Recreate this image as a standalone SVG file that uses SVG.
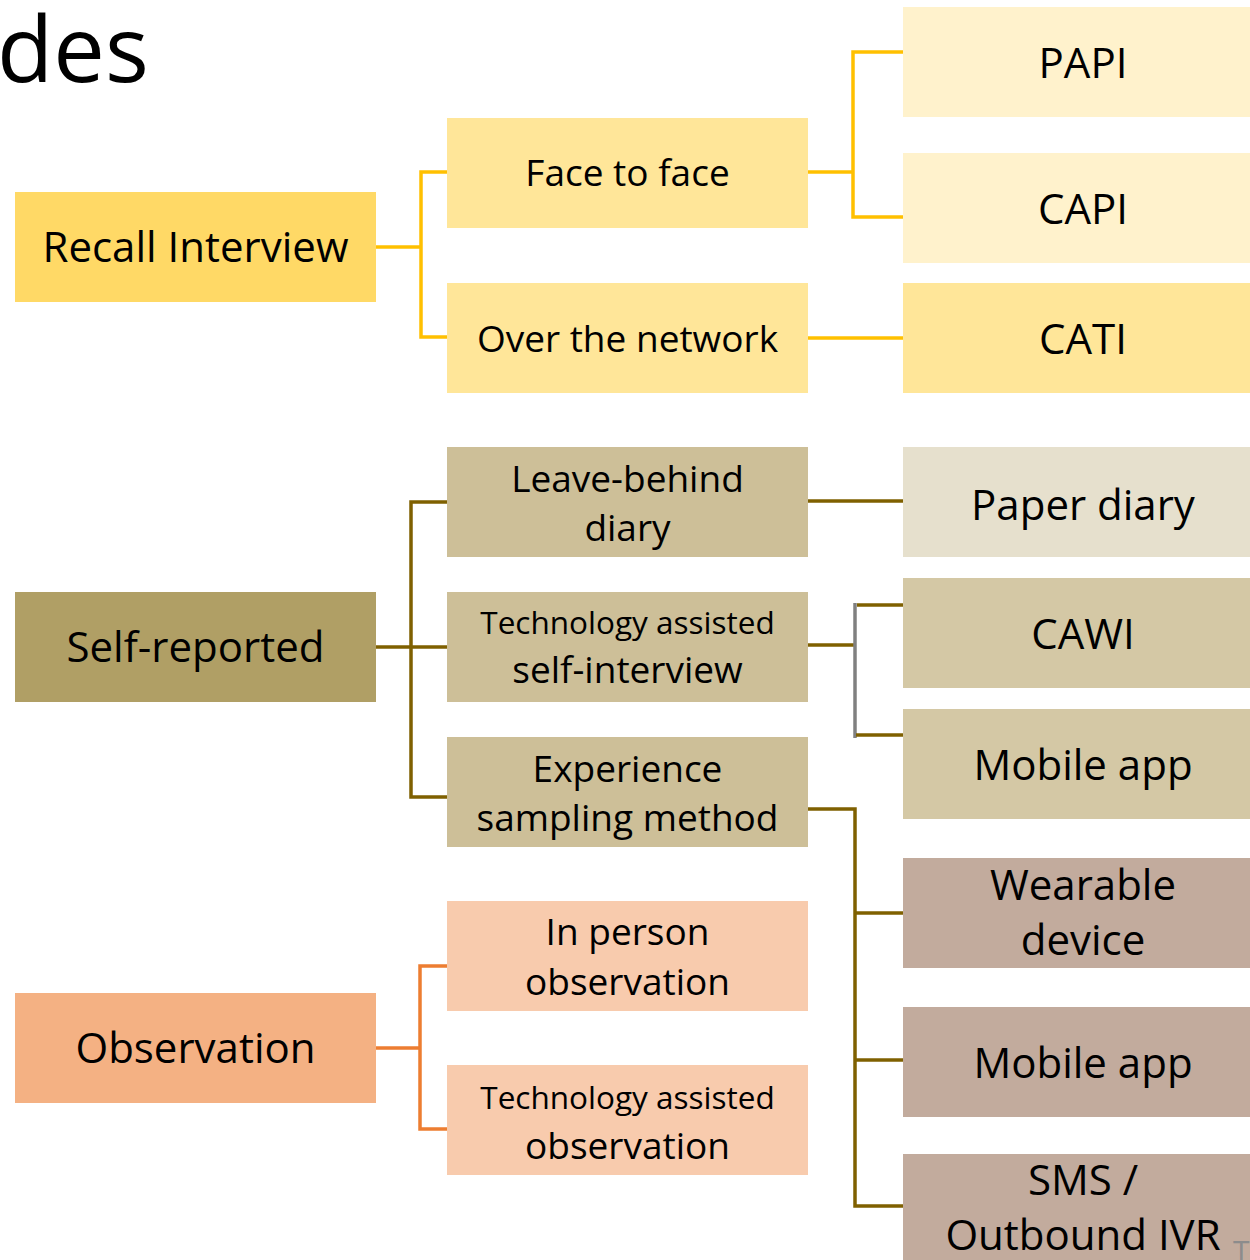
<svg xmlns="http://www.w3.org/2000/svg" width="1250" height="1260" viewBox="0 0 1250 1260">
  <style>
    text { font-family: "Open Sans", "Noto Sans", "Liberation Sans", sans-serif; fill: #000; text-anchor: middle; }
    .t1 { font-size: 42px; }
    .t2 { font-size: 37px; }
    .t2s { font-size: 31.5px; }
    .t3 { font-size: 42px; }
    .ln { fill: none; stroke-width: 3.5; stroke-linecap: butt; stroke-linejoin: miter; }
    .gold { stroke: #FFC000; }
    .brown { stroke: #7F6000; }
    .grey { stroke: #808080; }
    .orange { stroke: #ED7D31; }
  </style>

  <rect width="1250" height="1260" fill="#FFFFFF"/>

  <!-- heading fragment -->
  <text x="-3" y="82" style="font-size:92px; text-anchor:start;">des</text>

  <!-- connectors -->
  <g id="connectors">
    <!-- Recall Interview branch -->
    <path class="ln gold" d="M376 247 H421"/>
    <path class="ln gold" d="M447 172 H421 V337 H447"/>
    <path class="ln gold" d="M808 172 H853"/>
    <path class="ln gold" d="M903 52 H853 V217 H903"/>
    <path class="ln gold" d="M808 338 H903"/>
    <!-- Self-reported branch -->
    <path class="ln brown" d="M376 647 H447"/>
    <path class="ln brown" d="M447 502 H411 V797 H447"/>
    <path class="ln brown" d="M808 501 H903"/>
    <path class="ln brown" d="M808 645 H855"/>
    <path class="ln grey" d="M855 603 V738"/>
    <path class="ln brown" d="M857 605 H903"/>
    <path class="ln brown" d="M856 735 H903"/>
    <path class="ln brown" d="M808 809 H855 V1206 H903"/>
    <path class="ln brown" d="M855 913 H903"/>
    <path class="ln brown" d="M855 1060 H903"/>
    <!-- Observation branch -->
    <path class="ln orange" d="M376 1048 H420"/>
    <path class="ln orange" d="M447 966 H420 V1129 H447"/>
  </g>

  <!-- first level -->
  <g id="recall-interview">
    <rect x="15" y="192" width="361" height="110" fill="#FFD966"/>
    <text class="t1" x="195.5" y="262">Recall Interview</text>
  </g>
  <g id="self-reported">
    <rect x="15" y="592" width="361" height="110" fill="#B09F65"/>
    <text class="t1" x="195.5" y="662">Self-reported</text>
  </g>
  <g id="observation">
    <rect x="15" y="993" width="361" height="110" fill="#F4B183"/>
    <text class="t1" x="195.5" y="1063">Observation</text>
  </g>

  <!-- second level -->
  <g id="face-to-face">
    <rect x="447" y="118" width="361" height="110" fill="#FFE699"/>
    <text class="t2" x="627.5" y="186">Face to face</text>
  </g>
  <g id="over-the-network">
    <rect x="447" y="283" width="361" height="110" fill="#FFE699"/>
    <text class="t2" x="627.5" y="352">Over the network</text>
  </g>
  <g id="leave-behind-diary">
    <rect x="447" y="447" width="361" height="110" fill="#CDBF98"/>
    <text class="t2" x="627.5" y="492">Leave-behind</text>
    <text class="t2" x="627.5" y="541">diary</text>
  </g>
  <g id="tech-self-interview">
    <rect x="447" y="592" width="361" height="110" fill="#CDBF98"/>
    <text class="t2s" x="627.5" y="634">Technology assisted</text>
    <text class="t2" x="627.5" y="683">self-interview</text>
  </g>
  <g id="experience-sampling">
    <rect x="447" y="737" width="361" height="110" fill="#CDBF98"/>
    <text class="t2" x="627.5" y="782">Experience</text>
    <text class="t2" x="627.5" y="831">sampling method</text>
  </g>
  <g id="in-person-observation">
    <rect x="447" y="901" width="361" height="110" fill="#F8CBAD"/>
    <text class="t2" x="627.5" y="945">In person</text>
    <text class="t2" x="627.5" y="995">observation</text>
  </g>
  <g id="tech-observation">
    <rect x="447" y="1065" width="361" height="110" fill="#F8CBAD"/>
    <text class="t2s" x="627.5" y="1109">Technology assisted</text>
    <text class="t2" x="627.5" y="1159">observation</text>
  </g>

  <!-- third level -->
  <g id="papi">
    <rect x="903" y="7" width="361" height="110" fill="#FFF2CC"/>
    <text class="t3" x="1083" y="78">PAPI</text>
  </g>
  <g id="capi">
    <rect x="903" y="153" width="361" height="110" fill="#FFF2CC"/>
    <text class="t3" x="1083" y="224">CAPI</text>
  </g>
  <g id="cati">
    <rect x="903" y="283" width="361" height="110" fill="#FFE699"/>
    <text class="t3" x="1083" y="354">CATI</text>
  </g>
  <g id="paper-diary">
    <rect x="903" y="447" width="361" height="110" fill="#E6E0CD"/>
    <text class="t3" x="1083" y="520">Paper diary</text>
  </g>
  <g id="cawi">
    <rect x="903" y="578" width="361" height="110" fill="#D4C8A5"/>
    <text class="t3" x="1083" y="649">CAWI</text>
  </g>
  <g id="mobile-app-self">
    <rect x="903" y="709" width="361" height="110" fill="#D4C8A5"/>
    <text class="t3" x="1083" y="780">Mobile app</text>
  </g>
  <g id="wearable-device">
    <rect x="903" y="858" width="361" height="110" fill="#C2AB9D"/>
    <text class="t3" x="1083" y="900">Wearable</text>
    <text class="t3" x="1083" y="955">device</text>
  </g>
  <g id="mobile-app-esm">
    <rect x="903" y="1007" width="361" height="110" fill="#C2AB9D"/>
    <text class="t3" x="1083" y="1078">Mobile app</text>
  </g>
  <g id="sms-ivr">
    <rect x="903" y="1154" width="361" height="110" fill="#C2AB9D"/>
    <text class="t3" x="1083" y="1195">SMS /</text>
    <text class="t3" x="1083" y="1250">Outbound IVR</text>
  </g>

  <text x="1233" y="1262" style="font-size:30px; text-anchor:start; fill:#8C8C8C;">T</text>
</svg>
